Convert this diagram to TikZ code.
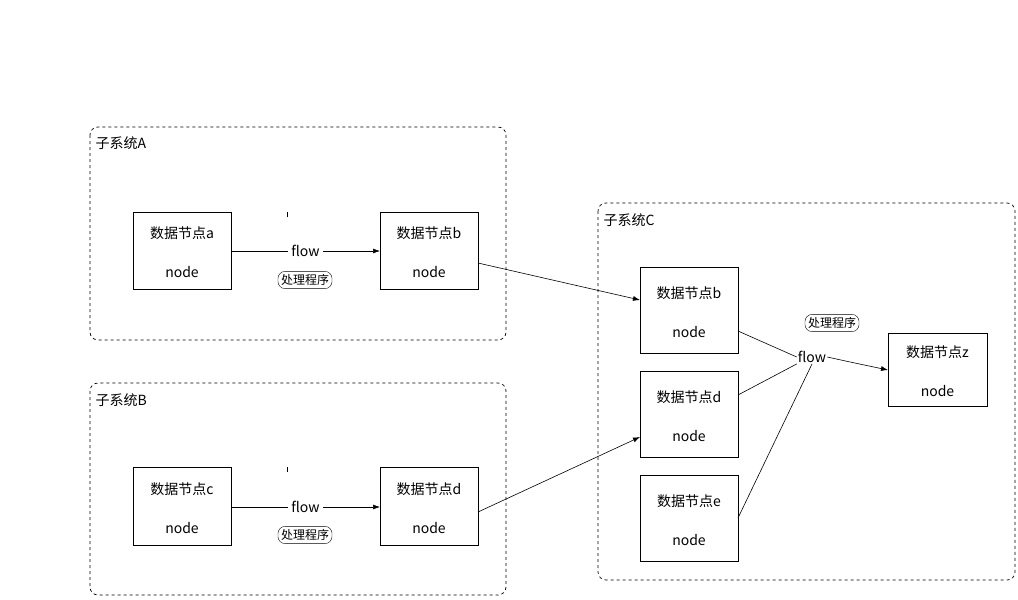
\documentclass[tikz,border=0pt]{standalone}
\usepackage{fontspec}
\setmainfont{Liberation Sans}
\newfontfamily\cjk{Noto Sans CJK SC}
\usetikzlibrary{arrows.meta}
\begin{document}
\begin{tikzpicture}[x=1pt,y=-1pt,font=\cjk\fontsize{14}{16}\selectfont,
 sys/.style={draw,dashed,rounded corners=8pt,line width=0.7pt},
 tag/.style={draw,rounded corners=7pt,font=\cjk\fontsize{12}{13}\selectfont,inner sep=3pt},
 lab/.style={fill=white,inner sep=3pt},
 arr/.style={-{Latex[length=7pt,width=5pt]},line width=0.6pt}]
\useasboundingbox (0,0) rectangle (1018,600);
% subsystems
\draw[sys] (90,127) rectangle (506,340);
\node[anchor=west] (la) at (92,143) {子系统A};
\draw[sys] (90,383) rectangle (506,595);
\node[anchor=west] (lb) at (92,400) {子系统B};
\draw[sys] (598,203) rectangle (1015,580);
\node[anchor=west] (lc) at (600,220) {子系统C};
% nodes
\newcommand{\dnode}[6]{\draw[line width=0.8pt] (#2,#3) rectangle (#4,#5);
 \node (#1) at ({(#2+#4)/2},{(#3+#5)/2}) [minimum width={#4-#2},minimum height={#5-#3}] {};
 \node at ({(#2+#4)/2},{(#3+#5)/2-17}) {#6};
 \node at ({(#2+#4)/2},{(#3+#5)/2+22}) {node};}
\dnode{a}{133}{212}{231}{289}{数据节点a}
\dnode{b}{380}{212}{478}{289}{数据节点b}
\dnode{c}{133}{467}{231}{545}{数据节点c}
\dnode{d}{380}{467}{478}{545}{数据节点d}
\dnode{b2}{640}{267}{738}{353}{数据节点b}
\dnode{d2}{640}{371}{738}{457}{数据节点d}
\dnode{e2}{640}{475}{738}{561}{数据节点e}
\dnode{z}{888}{333}{987}{406}{数据节点z}
% A flow
\coordinate (a1) at (231,251); \coordinate (b1) at (380,251);
\draw[arr] (a1) -- node[lab] {flow} (b1);
\draw (287,212) -- (287,217);
\node[tag] (ta) at (305,280) {处理程序};
% B flow
\coordinate (c1) at (231,507); \coordinate (d1) at (380,507);
\draw[arr] (c1) -- node[lab] {flow} (d1);
\draw (287,467) -- (287,472);
\node[tag] (tb) at (305,535) {处理程序};
% cross arrows
\coordinate (bo) at (478,263); \coordinate (bi) at (640,300);
\draw[arr] (bo) -- (bi);
\coordinate (do) at (478,512); \coordinate (di) at (640,437);
\draw[arr] (do) -- (di);
% C flow
\node[inner sep=1pt] (fl) at (812,357) {flow};
\node[tag] (tc) at (832,323) {处理程序};
\coordinate (b2o) at (738,331); \coordinate (d2o) at (738,395); \coordinate (e2o) at (738,518);
\coordinate (zi) at (888,370);
\draw[line width=0.6pt] (b2o) -- (fl.west);
\draw[line width=0.6pt] (d2o) -- (fl.south west);
\draw[line width=0.6pt] (e2o) -- (fl.south);
\draw[arr] (fl.east) .. controls (850,362) .. (zi);
\end{tikzpicture}
\end{document}
